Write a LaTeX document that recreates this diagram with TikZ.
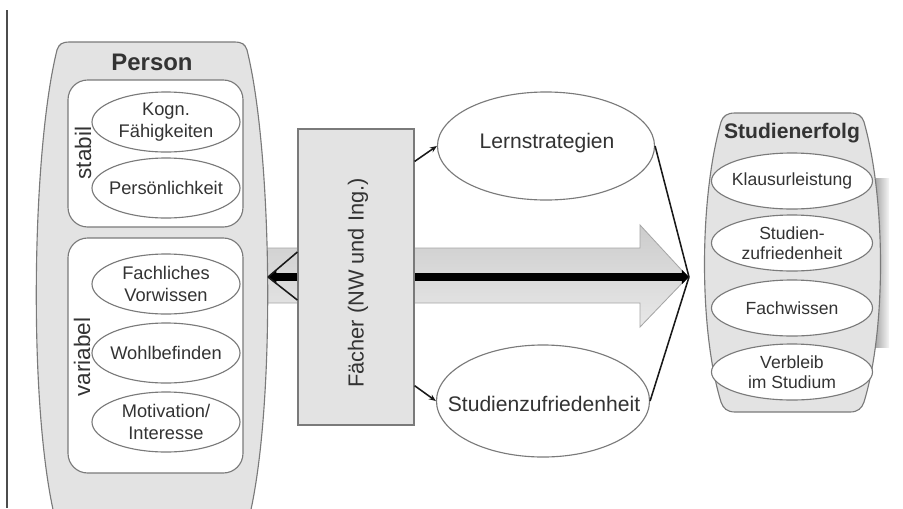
\documentclass[tikz,border=0pt]{standalone}
\usepackage{fontspec}
\setmainfont{Liberation Sans}
\usetikzlibrary{shapes.geometric,arrows.meta,calc}
\definecolor{txt}{HTML}{333333}
\definecolor{edge}{HTML}{7A7A7A}
\definecolor{panel}{HTML}{E3E3E3}
\begin{document}
\begin{tikzpicture}[x=0.025cm,y=-0.025cm,
  every node/.style={text=txt},
  el/.style={ellipse,draw=edge,line width=0.8pt,fill=white,inner sep=0pt},
  pel/.style={el,minimum width=3.7cm,minimum height=1.5cm},
  sel/.style={el,minimum width=4.025cm,minimum height=1.4cm},
  ptext/.style={align=center,inner sep=0pt,font=\fontsize{13}{15.6}\selectfont},
  stext/.style={align=center,inner sep=0pt,font=\fontsize{12.5}{14.2}\selectfont},
  btext/.style={inner sep=0pt,font=\fontsize{15}{18}\selectfont},
  panelbox/.style={draw=edge,line width=0.8pt,fill=panel},
  innerbox/.style={draw=edge,line width=0.8pt,fill=white,rounded corners=14pt},
  thinline/.style={draw=black!90,line width=1.1pt},
  sidelabel/.style={rotate=90,font=\fontsize{16}{19}\selectfont},
  title/.style={font=\bfseries\fontsize{17}{20}\selectfont}
]
\useasboundingbox (0,0) rectangle (903,508);
\fill[white] (0,0) rectangle (903,508);
% left vertical rule
\draw[black!70,line width=1.5pt] (7,10) -- (7,508);

% big gray arrow
\draw[draw=gray!70,line width=0.6pt,top color=gray!40,bottom color=gray!18]
  (255,248) -- (640,248) -- (640,225) -- (688,277) -- (640,327) -- (640,303) -- (255,303) -- cycle;

% shadow at right of Studienerfolg
\shade[left color=gray!65,right color=gray!8] (876,178) rectangle (889,347);

% Person panel
\draw[panelbox] (70,42) -- (234,42) .. controls (242,42) and (245,44) .. (247,50)
  .. controls (272,150) and (276,400) .. (250,514) -- (54,514)
  .. controls (28,400) and (32,150) .. (57,50) .. controls (59,44) and (62,42) .. (70,42) -- cycle;
\node[title] (person) at (152,62) {Person};
\draw[innerbox] (68,80) rectangle (243,227);
\draw[innerbox] (68,238) rectangle (243,473);
\node[sidelabel] (stabil) at (83,153) {stabil};
\node[sidelabel] (variabel) at (82,357) {variabel};
\node[pel] (kogn) at (166,122) {};
\node[ptext] (kognt) at (kogn) {Kogn.\\Fähigkeiten};
\node[pel] (pers) at (166,188) {};
\node[ptext] (perst) at (pers) {Persönlichkeit};
\node[pel] (vorw) at (166,284) {};
\node[ptext] (vorwt) at (vorw) {Fachliches\\Vorwissen};
\node[pel] (wohl) at (166,353) {};
\node[ptext] (wohlt) at (wohl) {Wohlbefinden};
\node[pel] (moti) at (166,422) {};
\node[ptext] (motit) at (moti) {Motivation/\\Interesse};

% convergence points
\coordinate (pL) at (268,277);
\coordinate (pR) at (689,277);

% black bar
\draw[black,line width=6pt,{Triangle[length=6pt,width=10pt]}-{Triangle[length=5pt,width=10pt]}] (pL) -- (pR);

% Faecher box
\node[panelbox,fill=gray!22,minimum width=2.9cm,minimum height=7.4cm,inner sep=0pt] (f) at (356,277) {};
\node[rotate=90,font=\fontsize{15.5}{18}\selectfont] (ftext) at (358,283) {Fächer (NW und Ing.)};

% middle ellipses
\node[el,minimum width=5.425cm,minimum height=2.7cm] (lern) at (546,146) {};
\node[btext] (lernt) at (547,143) {Lernstrategien};
\node[el,minimum width=5.325cm,minimum height=2.8cm] (sz) at (543,401) {};
\node[btext] (szt) at (544,404) {Studienzufriedenheit};

% Studienerfolg panel
\draw[panelbox] (735,113) -- (850,113) .. controls (858,113) and (862,116) .. (864,122)
  .. controls (886,200) and (886,330) .. (864,402) .. controls (862,408) and (858,412) .. (850,412)
  -- (735,412) .. controls (727,412) and (723,408) .. (721,402)
  .. controls (699,330) and (699,200) .. (721,122) .. controls (723,116) and (727,113) .. (735,113) -- cycle;
\node[title,font=\bfseries\fontsize{15}{18}\selectfont] (erfolg) at (792,133) {Studienerfolg};
\node[sel] (klaus) at (792,181) {};
\node[stext] (klaust) at (klaus) {Klausurleistung};
\node[sel] (zuf) at (792,243) {};
\node[stext] (zuft) at (zuf) {Studien-\\zufriedenheit};
\node[sel] (fachw) at (792,308) {};
\node[stext] (fachwt) at (fachw) {Fachwissen};
\node[sel] (verb) at (792,372) {};
\node[stext] (verbt) at (verb) {Verbleib\\im Studium};

% connectors
\draw[thinline] ([yshift=17.8pt]f.west) -- (pL);
\draw[thinline] ([yshift=-16.4pt]f.west) -- (pL);
\draw[thinline,-{Stealth[length=5pt,width=4pt]}] ([yshift=-23.5pt]f.north east) -- (lern.west);
\draw[thinline,-{Stealth[length=5pt,width=4pt]}] ([yshift=28.4pt]f.south east) -- (sz.west);
\draw[thinline] (lern.east) -- (pR);
\draw[thinline] (sz.east) -- (pR);
\end{tikzpicture}
\end{document}
